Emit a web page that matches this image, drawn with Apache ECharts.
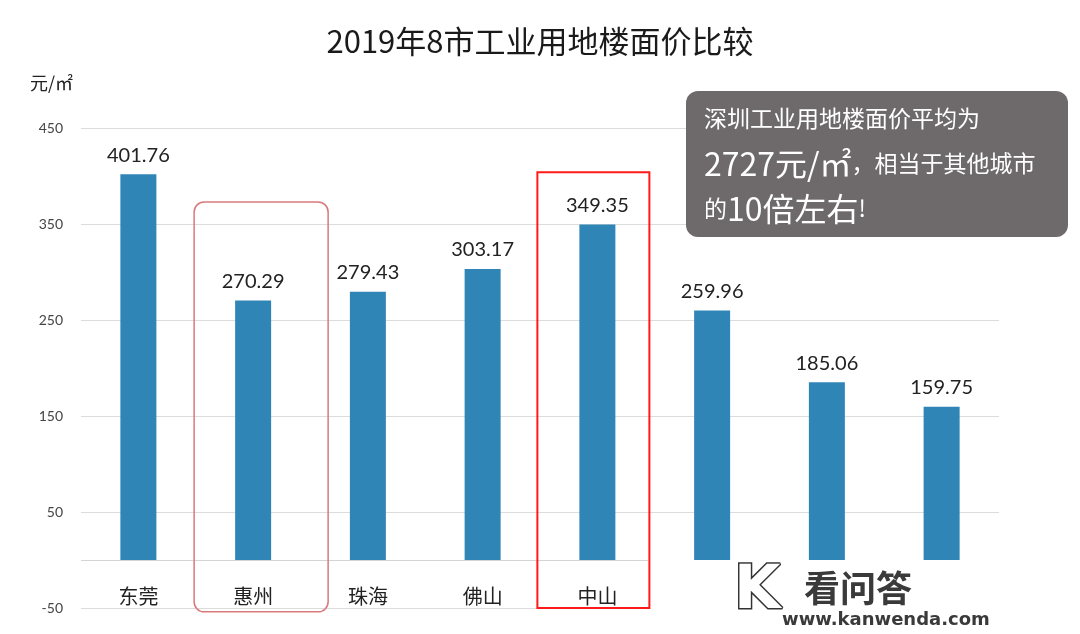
<!DOCTYPE html>
<html>
<head>
<meta charset="utf-8">
<script src="https://cdn.jsdelivr.net/npm/echarts@6/dist/echarts.min.js"></script>
<style>
    html, body { margin: 0; padding: 0; background: #fff; }
    #main { width: 1080px; height: 634px; }
</style>
</head>
<body>
<div id="main"></div>
<script>
    // 后三个城市名被水印遮住，看不清
    var cities = ['东莞', '惠州', '珠海', '佛山', '中山', '', '', ''];
    var prices = [401.76, 270.29, 279.43, 303.17, 349.35, 259.96, 185.06, 159.75];
    var yTicks = [-50, 50, 150, 250, 350, 450];

    var numFont = 'Lato, "Noto Sans CJK SC", sans-serif';
    var cnFont = '"Noto Sans CJK SC", sans-serif';

    // 网格线：-50, 0(基线), 50, 150, 250, 350, 450
    var gridColors = [];
    for (var v = -50; v <= 450; v += 50) {
        if (v === 0) gridColors.push('#d4d4d4');
        else gridColors.push(yTicks.indexOf(v) >= 0 ? '#dcdcdc' : 'rgba(0,0,0,0)');
    }

    var chart = echarts.init(document.getElementById('main'));

    chart.setOption({
        backgroundColor: '#fff',
        animation: false,
        title: {
            text: '2019年8市工业用地楼面价比较',
            left: 'center',
            top: 21,
            textStyle: { fontFamily: cnFont, fontSize: 31, fontWeight: 'normal', color: '#1a1a1a' }
        },
        grid: { left: 81, right: 81, top: 128, bottom: 26, containLabel: false, outerBoundsMode: 'none' },
        xAxis: {
            type: 'category',
            data: cities,
            axisTick: { show: false },
            axisLine: { show: false, onZero: false },
            axisLabel: { margin: -22, fontFamily: cnFont, fontSize: 20, color: '#222' }
        },
        yAxis: {
            type: 'value',
            min: -50,
            max: 450,
            interval: 50,
            name: '元/㎡',
            nameLocation: 'end',
            nameGap: 36,
            nameTextStyle: { fontFamily: cnFont, fontSize: 18, color: '#222', align: 'right', padding: [0, 8, 0, 0] },
            axisLine: { show: false },
            axisTick: { show: false },
            axisLabel: {
                margin: 18,
                fontFamily: numFont,
                fontSize: 14,
                color: '#444',
                formatter: function (v) { return yTicks.indexOf(v) >= 0 ? String(v) : ''; }
            },
            splitLine: {
                show: true,
                lineStyle: { color: gridColors, width: 1 }
            }
        },
        series: [{
            type: 'bar',
            data: prices,
            barWidth: 36,
            itemStyle: { color: '#2f86b6' },
            label: {
                show: true,
                position: 'top',
                distance: 9,
                fontFamily: numFont,
                fontSize: 20,
                color: '#222',
                formatter: function (p) { return p.value.toFixed(2); }
            }
        }]
    });

    function px(idx, val) {
        return chart.convertToPixel({ xAxisIndex: 0, yAxisIndex: 0 }, [idx, val]);
    }

    var hz = px(1, 0), hzTop = px(1, 373), hzBot = px(1, -54);
    var zs = px(4, 0), zsTop = px(4, 404), zsBot = px(4, -50);

    chart.setOption({
        graphic: [
            {
                type: 'rect',
                shape: { x: hz[0] - 59, y: hzTop[1], width: 134, height: hzBot[1] - hzTop[1], r: 10 },
                style: { fill: 'none', stroke: '#d9797b', lineWidth: 1.5 },
                z: 10
            },
            {
                type: 'rect',
                shape: { x: zs[0] - 60, y: zsTop[1], width: 112, height: zsBot[1] - zsTop[1] },
                style: { fill: 'none', stroke: '#ff1a1a', lineWidth: 2 },
                z: 10
            },
            {
                type: 'group',
                left: 686,
                top: 91,
                z: 20,
                children: [
                    {
                        type: 'rect',
                        shape: { x: 0, y: 0, width: 382, height: 146, r: 12 },
                        style: { fill: '#6e6a6c' }
                    },
                    {
                        type: 'text',
                        x: 18,
                        y: 5,
                        style: {
                            text: '{a|深圳工业用地楼面价平均为}\n{b|2727元/㎡}{a|，相当于其他城市}\n{a|的}{b|10倍左右}{a|!}',
                            fill: '#fff',
                            rich: {
                                a: { fontFamily: cnFont, fontSize: 23, color: '#fff', lineHeight: 45 },
                                b: { fontFamily: cnFont, fontSize: 32, color: '#fff', lineHeight: 45 }
                            }
                        }
                    }
                ]
            },
            // 右下角水印遮挡
            {
                type: 'group',
                left: 648,
                top: 550,
                z: 30,
                children: [
                    {
                        type: 'rect',
                        shape: { x: 0, y: 0, width: 432, height: 84 },
                        style: { fill: '#ffffff' }
                    },
                    {
                        type: 'text',
                        x: 86,
                        y: 12,
                        style: {
                            text: 'K',
                            fill: '#fff',
                            stroke: '#333',
                            lineWidth: 3,
                            font: 'bold 60px "DejaVu Sans", sans-serif'
                        }
                    },
                    {
                        type: 'text',
                        x: 156,
                        y: 20,
                        style: { text: '看问答', fill: '#3a3a3a', font: 'bold 36px "Noto Sans CJK SC", sans-serif' }
                    },
                    {
                        type: 'text',
                        x: 134,
                        y: 61,
                        style: { text: 'www.kanwenda.com', fill: '#3a3a3a', font: 'bold 18px "DejaVu Sans", sans-serif' }
                    }
                ]
            }
        ]
    });
</script>
</body>
</html>
